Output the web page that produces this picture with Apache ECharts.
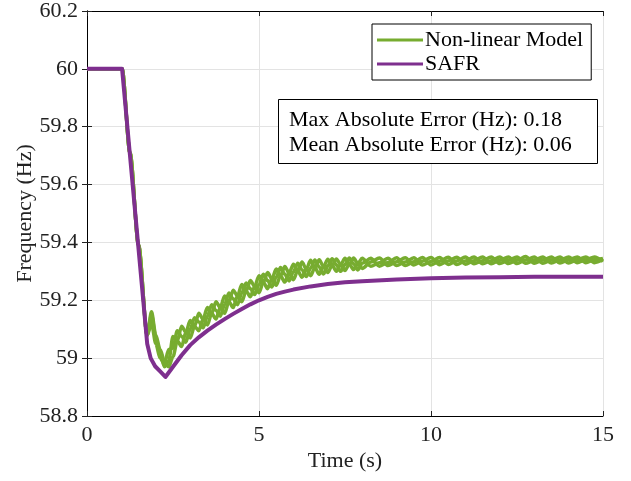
<!DOCTYPE html>
<html>
<head>
<meta charset="utf-8">
<script src="https://cdn.jsdelivr.net/npm/echarts@6/dist/echarts.min.js"></script>
<style>html,body{margin:0;padding:0;background:#fff}#c{width:631px;height:481px}</style>
</head>
<body>
<div id="c"></div>
<script>
// ---- data ----
const xTicks = [0, 5, 10, 15];
const yTickMin = 58.8, yTickMax = 60.2, yTickStep = 0.2;

const greenTime = [0, 1.02, 1.25, 1.5, 1.75,
  1.875, 2.0, 2.125, 2.25, 2.375, 2.5, 2.625, 2.75, 2.875, 3.0,
  3.125, 3.25, 3.375, 3.5, 3.625, 3.75, 3.875, 4.0, 4.125, 4.25,
  4.375, 4.5, 4.625, 4.75, 4.875, 5.0, 5.125, 5.25, 5.375, 5.5,
  5.625, 5.75, 5.875, 6.0, 6.125, 6.25, 6.375, 6.5, 6.625, 6.75,
  6.875, 7.0, 7.125, 7.25, 7.375, 7.5, 7.625, 7.75, 7.875, 8.0,
  8.25, 8.5, 8.75, 9.0, 9.25, 9.5, 9.75, 10.0, 10.25, 10.5, 10.75, 11.0,
  11.25, 11.5, 11.75, 12.0, 12.25, 12.5, 12.75, 13.0, 13.25, 13.5, 13.75, 14.0,
  14.25, 14.5, 14.75, 15.0];

const nonlinearA = [60, 60, 59.71, 59.39, 59.08,
  59.15, 59.07, 59.02, 58.97, 58.99, 59.075, 59.06, 59.04, 59.09, 59.13,
  59.11, 59.095, 59.135, 59.175, 59.155, 59.135, 59.175, 59.215, 59.195, 59.175,
  59.215, 59.255, 59.232, 59.212, 59.248, 59.285, 59.262, 59.24, 59.274, 59.308,
  59.285, 59.263, 59.294, 59.325, 59.302, 59.28, 59.308, 59.338, 59.313, 59.29,
  59.317, 59.342, 59.321, 59.3, 59.323, 59.345, 59.325, 59.306, 59.327, 59.345,
  59.318, 59.33, 59.345, 59.32, 59.332, 59.347, 59.322, 59.334, 59.348, 59.324, 59.336, 59.35,
  59.326, 59.337, 59.35, 59.327, 59.338, 59.35, 59.328, 59.338, 59.35, 59.329, 59.339, 59.35,
  59.33, 59.34, 59.35, 59.335];

const nonlinearB = [60, 60, 59.71, 59.39, 59.08,
  59.12, 59.05, 59.0, 58.98, 59.03, 59.035, 59.095, 59.075, 59.055, 59.10,
  59.14, 59.125, 59.105, 59.145, 59.185, 59.165, 59.145, 59.185, 59.225, 59.205,
  59.185, 59.225, 59.26, 59.24, 59.22, 59.255, 59.29, 59.268, 59.246, 59.28,
  59.313, 59.29, 59.267, 59.298, 59.328, 59.305, 59.282, 59.311, 59.339, 59.315,
  59.291, 59.319, 59.344, 59.322, 59.3, 59.324, 59.346, 59.326, 59.305, 59.328,
  59.345, 59.318, 59.331, 59.347, 59.32, 59.333, 59.348, 59.322, 59.335, 59.349, 59.324, 59.336,
  59.35, 59.326, 59.337, 59.35, 59.327, 59.338, 59.351, 59.328, 59.339, 59.35, 59.329, 59.34,
  59.35, 59.33, 59.34, 59.345];

const nonlinearC = [60, 60, 59.71, 59.39, 59.08,
  59.16, 59.08, 59.03, 58.99, 58.97, 59.005, 59.06, 59.11, 59.09, 59.07,
  59.11, 59.155, 59.135, 59.115, 59.155, 59.195, 59.175, 59.155, 59.195, 59.235,
  59.215, 59.195, 59.232, 59.268, 59.248, 59.226, 59.262, 59.296, 59.274, 59.252,
  59.285, 59.317, 59.294, 59.271, 59.302, 59.332, 59.308, 59.285, 59.313, 59.34,
  59.317, 59.296, 59.321, 59.343, 59.323, 59.303, 59.325, 59.346, 59.327, 59.31,
  59.332, 59.346, 59.32, 59.333, 59.347, 59.322, 59.335, 59.348, 59.323, 59.336, 59.349, 59.325,
  59.337, 59.35, 59.326, 59.338, 59.35, 59.327, 59.339, 59.35, 59.328, 59.339, 59.35, 59.329,
  59.34, 59.35, 59.33, 59.34];

const safrTime = [0, 1.02, 1.25, 1.5, 1.75, 1.85, 1.98, 2.12, 2.28, 2.5, 2.75, 3.0, 3.25, 3.5, 3.75, 4.0,
  4.25, 4.5, 4.75, 5.0, 5.25, 5.5, 5.75, 6.0, 6.5, 7.0, 7.5, 8.0, 9.0, 10.0, 11.0, 12.0, 13.0, 14.0, 15.0];
const safrValues = [60, 60, 59.70, 59.375, 59.05, 59.0, 58.972, 58.955, 58.935, 58.97, 59.01, 59.045, 59.072, 59.095, 59.116, 59.135,
  59.153, 59.17, 59.186, 59.2, 59.212, 59.222, 59.23, 59.237, 59.248, 59.256, 59.262, 59.266, 59.272, 59.276, 59.279, 59.28, 59.281, 59.281, 59.281];

const legendNames = ['Non-linear Model', 'SAFR'];
const errorLines = ['Max Absolute Error (Hz): 0.18', 'Mean Absolute Error (Hz): 0.06'];
const xTitle = 'Time (s)';
const yTitle = 'Frequency (Hz)';

// ---- chart ----
const FONT = '"Liberation Serif", "Times New Roman", serif';
const FS = 22;
const GREEN = '#77AC30', PURPLE = '#7E2F8E';
const zip = (t, v) => t.map((x, i) => [x, v[i]]);

const chart = echarts.init(document.getElementById('c'), null, {renderer: 'canvas'});

const gridL = 87, gridR = 28, gridT = 10, gridB = 65;

function greenSeries(vals) {
  return {
    type: 'line', name: legendNames[0], data: zip(greenTime, vals),
    showSymbol: false, symbol: 'none', smooth: 0.3, smoothMonotone: 'x',
    lineStyle: {color: GREEN, width: 3.5}, itemStyle: {color: GREEN},
    z: 2, animation: false
  };
}

const axisCommon = {
  axisLine: {show: true, lineStyle: {color: '#000', width: 1}},
  axisTick: {show: true, inside: true, length: 5, lineStyle: {color: '#222'}},
};

chart.setOption({
  animation: false,
  backgroundColor: '#fff',
  grid: {left: gridL, right: gridR, top: gridT, bottom: gridB, show: false},
  legend: {
    data: legendNames.map(n => ({name: n})),
    orient: 'vertical', left: 372, top: 24,
    icon: 'rect', itemWidth: 46, itemHeight: 3, itemGap: 2,
    padding: [5, 8, 5, 5],
    borderColor: '#000', borderWidth: 1, backgroundColor: '#fff',
    textStyle: {fontFamily: FONT, fontSize: FS, color: '#000', padding: [0, 0, 0, -3]},
    selectedMode: false
  },
  xAxis: [
    Object.assign({
      type: 'value', min: 0, max: 15, interval: 5, position: 'bottom',
      axisLabel: {fontFamily: FONT, fontSize: FS, color: '#222', margin: 8},
      splitLine: {show: true, lineStyle: {color: '#e3e3e3', width: 1}},
      name: xTitle, nameLocation: 'middle', nameGap: 34, nameMoveOverlap: false,
      nameTextStyle: {fontFamily: FONT, fontSize: FS, color: '#222'}
    }, axisCommon),
    Object.assign({
      type: 'value', min: 0, max: 15, interval: 5, position: 'top',
      axisLabel: {show: false}, splitLine: {show: false}
    }, axisCommon)
  ],
  yAxis: [
    Object.assign({
      type: 'value', min: yTickMin, max: yTickMax, interval: yTickStep, position: 'left',
      axisLabel: {fontFamily: FONT, fontSize: FS, color: '#222', margin: 9},
      splitLine: {show: true, lineStyle: {color: '#e3e3e3', width: 1}},
      name: yTitle, nameLocation: 'middle', nameGap: 51, nameMoveOverlap: false,
      nameTextStyle: {fontFamily: FONT, fontSize: FS, color: '#222'}
    }, axisCommon),
    Object.assign({
      type: 'value', min: yTickMin, max: yTickMax, interval: yTickStep, position: 'right',
      axisLabel: {show: false}, splitLine: {show: false}
    }, axisCommon)
  ],
  series: [
    greenSeries(nonlinearA),
    greenSeries(nonlinearB),
    greenSeries(nonlinearC),
    {
      type: 'line', name: legendNames[1], data: zip(safrTime, safrValues),
      showSymbol: false, symbol: 'none', smooth: false,
      lineStyle: {color: PURPLE, width: 4, join: 'round'}, itemStyle: {color: PURPLE},
      z: 3, animation: false
    }
  ],
  graphic: [
    {
      type: 'rect', left: 278, top: 99, z: 100,
      shape: {width: 319, height: 64},
      style: {fill: '#fff', stroke: '#000', lineWidth: 1}
    },
    {
      type: 'text', left: 289, top: 109, z: 101,
      style: {text: errorLines[0], font: FS + 'px ' + FONT, fill: '#000'}
    },
    {
      type: 'text', left: 289, top: 134, z: 101,
      style: {text: errorLines[1], font: FS + 'px ' + FONT, fill: '#000'}
    }
  ]
});
</script>
</body>
</html>
